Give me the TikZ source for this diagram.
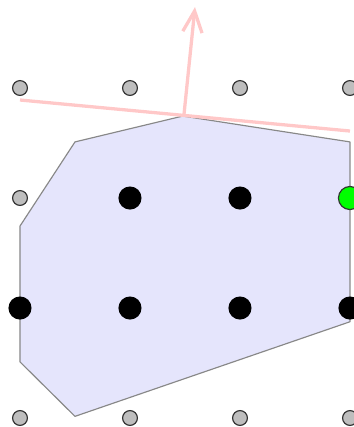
\documentclass[tikz,border=0pt]{standalone}
\usetikzlibrary{arrows.meta}
\definecolor{polyfill}{RGB}{229,229,252}
\definecolor{polyedge}{RGB}{136,136,136}
\definecolor{pinkline}{RGB}{255,200,200}
\definecolor{grayfill}{RGB}{190,190,190}
\definecolor{dotedge}{RGB}{50,50,50}
\tikzset{
  latpt/.style={circle,fill=grayfill,draw=dotedge,line width=0.3pt,inner sep=0pt,minimum size=0.135cm},
  blackpt/.style={circle,fill=black,inner sep=0pt,minimum size=0.21cm},
  greenpt/.style={circle,fill=green,draw=dotedge,line width=0.3pt,inner sep=0pt,minimum size=0.21cm},
  polyshape/.style={fill=polyfill,draw=polyedge,line width=0.3pt,line join=round},
  normalline/.style={draw=pinkline,line width=0.85pt},
  normalarrow/.style={draw=pinkline,line width=0.85pt,-{Straight Barb[length=5.5pt,width=5pt,line width=0.85pt]}}
}
\begin{document}
\begin{tikzpicture}
\useasboundingbox (-0.1818,-0.0818) rectangle (3.0364,3.8);
% polygon
\coordinate (p1) at (1.48,2.745);
\coordinate (p2) at (0.5,2.51);
\coordinate (p3) at (0,1.745);
\coordinate (p4) at (0,0.51);
\coordinate (p5) at (0.5,0.015);
\coordinate (p6) at (3,0.875);
\coordinate (p7) at (3,2.51);
\path[polyshape] (p1) -- (p2) -- (p3) -- (p4) -- (p5) -- (p6) -- (p7) -- cycle;
% supporting line and normal
\coordinate (la) at (0,2.891);
\coordinate (lb) at (3,2.609);
\coordinate (nbase) at (1.49,2.75);
\coordinate (ntip) at (1.591,3.736);
\draw[normalline] (la) -- (lb);
\draw[normalarrow] (nbase) -- (ntip);
% lattice points
\node[latpt] (g03) at (0,3) {};
\node[latpt] (g13) at (1,3) {};
\node[latpt] (g23) at (2,3) {};
\node[latpt] (g33) at (3,3) {};
\node[latpt] (g02) at (0,2) {};
\node[latpt] (g00) at (0,0) {};
\node[latpt] (g10) at (1,0) {};
\node[latpt] (g20) at (2,0) {};
\node[latpt] (g30) at (3,0) {};
\node[blackpt] (b12) at (1,2) {};
\node[blackpt] (b22) at (2,2) {};
\node[greenpt] (v32) at (3,2) {};
\node[blackpt] (b01) at (0,1) {};
\node[blackpt] (b11) at (1,1) {};
\node[blackpt] (b21) at (2,1) {};
\node[blackpt] (b31) at (3,1) {};
\end{tikzpicture}
\end{document}
